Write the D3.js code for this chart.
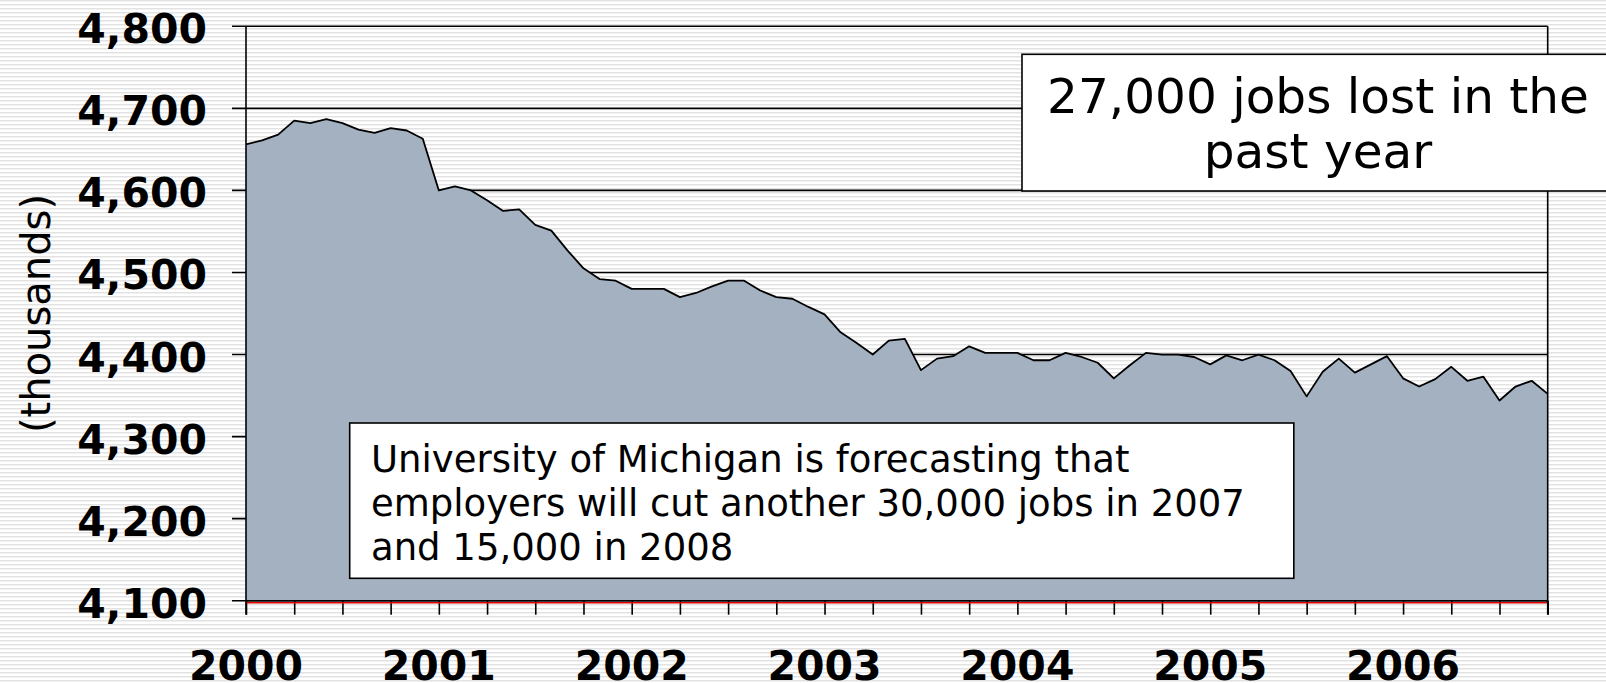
<!DOCTYPE html>
<html>
<head>
<meta charset="utf-8">
<script src="https://cdn.jsdelivr.net/npm/d3@7"></script>
<style>
  html, body { margin: 0; padding: 0; background: #fff; }
  svg { display: block; }
</style>
</head>
<body>
<div id="chart"></div>
<script>
// monthly employment, Jan 2000 - Oct 2006 (thousands)
const employment = [
  4656, 4661, 4668, 4685, 4682, 4687, 4682, 4674, 4670, 4676, 4673, 4663,
  4600, 4605, 4600, 4588, 4575, 4577, 4558, 4551, 4527, 4505, 4492, 4490,
  4480, 4480, 4480, 4470, 4475, 4483, 4490, 4490, 4478, 4470, 4468, 4458,
  4449, 4427, 4414, 4400, 4417, 4419, 4381, 4395, 4398, 4410, 4402, 4402,
  4402, 4393, 4393, 4402, 4397, 4390, 4371, 4387, 4402, 4400, 4400, 4397,
  4388, 4399, 4393, 4400, 4393, 4380, 4349, 4379, 4395, 4378, 4388, 4398,
  4371, 4361, 4370, 4385, 4368, 4373, 4344, 4361, 4368, 4352
];
const yearLabels = ['2000', '2001', '2002', '2003', '2004', '2005', '2006'];
const yTicks = [4100, 4200, 4300, 4400, 4500, 4600, 4700, 4800];
const axisTitle = '(thousands)';
const noteTop = ['27,000 jobs lost in the', 'past year'];
const noteBottom = [
  'University of Michigan is forecasting that',
  'employers will cut another 30,000 jobs in 2007',
  'and 15,000 in 2008'
];

const width = 1606;
const height = 683;
const plot = { left: 246, right: 1547.7, top: 26.3, bottom: 600.7 };
const tickLen = 14;

const svg = d3.select('#chart').append('svg')
  .attr('width', width)
  .attr('height', height);

// striped slide background
const defs = svg.append('defs');
const stripes = defs.append('pattern')
  .attr('id', 'stripes')
  .attr('patternUnits', 'userSpaceOnUse')
  .attr('width', 8)
  .attr('height', 4);
stripes.append('rect').attr('width', 8).attr('height', 4).attr('fill', '#ffffff');
stripes.append('rect').attr('y', 0).attr('width', 8).attr('height', 1.2).attr('fill', '#e2e2e2');
stripes.append('rect').attr('y', 1.2).attr('width', 8).attr('height', 0.8).attr('fill', '#f0f0f0');

svg.append('rect')
  .attr('width', width)
  .attr('height', height)
  .attr('fill', 'url(#stripes)');

const x = d3.scaleLinear()
  .domain([0, employment.length - 1])
  .range([plot.left, plot.right]);

const y = d3.scaleLinear()
  .domain([d3.min(yTicks), d3.max(yTicks)])
  .range([plot.bottom, plot.top]);

// gridlines (and their outer tick stubs)
svg.append('g')
  .selectAll('line')
  .data(yTicks)
  .join('line')
  .attr('x1', plot.left - tickLen)
  .attr('x2', plot.right)
  .attr('y1', (d) => y(d))
  .attr('y2', (d) => y(d))
  .attr('stroke', '#000')
  .attr('stroke-width', 1.6);

const area = d3.area()
  .x((d, i) => x(i))
  .y0(y(yTicks[0]))
  .y1((d) => y(d));

const line = d3.line()
  .x((d, i) => x(i))
  .y((d) => y(d));

svg.append('path')
  .datum(employment)
  .attr('d', area)
  .attr('fill', '#a3b1c1');

svg.append('path')
  .datum(employment)
  .attr('d', line)
  .attr('fill', 'none')
  .attr('stroke', '#000')
  .attr('stroke-width', 1.8)
  .attr('stroke-linejoin', 'round');

// baseline at 4,100
svg.append('line')
  .attr('x1', plot.left).attr('x2', plot.right)
  .attr('y1', y(yTicks[0])).attr('y2', y(yTicks[0]))
  .attr('stroke', '#000').attr('stroke-width', 1.6);

// quarterly ticks on the category axis
const xAxis = svg.append('g')
  .attr('transform', `translate(0,${plot.bottom})`)
  .call(d3.axisBottom(x)
    .tickValues(d3.range(0, employment.length, 3))
    .tickSize(tickLen)
    .tickSizeOuter(0)
    .tickFormat(''));
xAxis.select('.domain').remove();
xAxis.selectAll('.tick line').attr('stroke', '#000').attr('stroke-width', 1.6);

svg.append('line')
  .attr('x1', plot.left).attr('x2', plot.right)
  .attr('y1', plot.bottom + 2).attr('y2', plot.bottom + 2)
  .attr('stroke', '#e00000').attr('stroke-width', 1.4);

// plot side borders
svg.append('g')
  .selectAll('line')
  .data([plot.left, plot.right])
  .join('line')
  .attr('x1', (d) => d).attr('x2', (d) => d)
  .attr('y1', plot.top).attr('y2', plot.bottom + tickLen)
  .attr('stroke', '#000').attr('stroke-width', 1.6);

// y tick labels
svg.append('g')
  .selectAll('text')
  .data(yTicks)
  .join('text')
  .attr('x', 207)
  .attr('y', (d) => y(d) + 17)
  .attr('text-anchor', 'end')
  .attr('font-family', '"DejaVu Sans", Verdana, sans-serif')
  .attr('font-weight', 'bold')
  .attr('font-size', 41)
  .attr('fill', '#000')
  .text(d3.format(','));

// year labels under every January tick
svg.append('g')
  .selectAll('text')
  .data(yearLabels)
  .join('text')
  .attr('x', (d, i) => x(i * 12))
  .attr('y', 680)
  .attr('text-anchor', 'middle')
  .attr('font-family', '"DejaVu Sans", Verdana, sans-serif')
  .attr('font-weight', 'bold')
  .attr('font-size', 41)
  .attr('fill', '#000')
  .text((d) => d);

svg.append('text')
  .attr('transform', `translate(50,${(plot.top + plot.bottom) / 2}) rotate(-90)`)
  .attr('text-anchor', 'middle')
  .attr('font-family', '"DejaVu Sans", Verdana, sans-serif')
  .attr('font-size', 40)
  .attr('fill', '#000')
  .text(axisTitle);

// callout: jobs lost
const topBox = svg.append('g');
topBox.append('rect')
  .attr('x', 1022).attr('y', 54.3)
  .attr('width', 600).attr('height', 136.7)
  .attr('fill', '#fff').attr('stroke', '#000').attr('stroke-width', 1.6);
topBox.selectAll('text')
  .data(noteTop)
  .join('text')
  .attr('x', 1318)
  .attr('y', (d, i) => 112.7 + i * 55.6)
  .attr('text-anchor', 'middle')
  .attr('font-family', '"DejaVu Sans", Verdana, sans-serif')
  .attr('font-size', 48.5)
  .attr('fill', '#000')
  .text((d) => d);

// callout: forecast
const bottomBox = svg.append('g');
bottomBox.append('rect')
  .attr('x', 349.7).attr('y', 423)
  .attr('width', 944.1).attr('height', 155.3)
  .attr('fill', '#fff').attr('stroke', '#000').attr('stroke-width', 1.6);
bottomBox.selectAll('text')
  .data(noteBottom)
  .join('text')
  .attr('x', 371)
  .attr('y', (d, i) => 471.5 + i * 44)
  .attr('font-family', '"DejaVu Sans", Verdana, sans-serif')
  .attr('font-size', 37)
  .attr('fill', '#000')
  .text((d) => d);
</script>
</body>
</html>
